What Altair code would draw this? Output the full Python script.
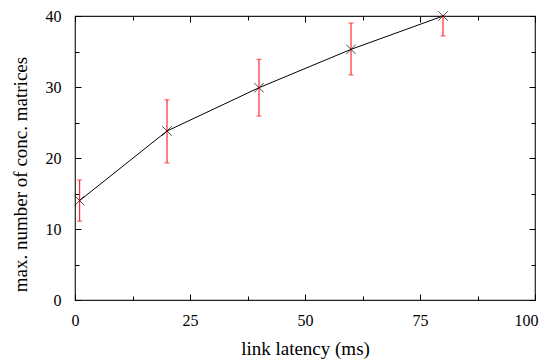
import altair as alt
import pandas as pd

# data
latency = [1, 20, 40, 60, 80]
matrices = [14.0, 23.8, 29.9, 35.3, 40.0]
err_low = [11.1, 19.3, 25.9, 31.7, 37.2]
err_high = [16.9, 28.2, 33.9, 39.0, 40.0]

x_major = [0, 25, 50, 75, 100]
x_minor = [12.5, 37.5, 62.5, 87.5]
y_major = [0, 10, 20, 30, 40]
y_minor = [5, 15, 25, 35]

df = pd.DataFrame(dict(latency=latency, matrices=matrices, lo=err_low, hi=err_high))

FONT = "Liberation Serif"
LFS = 16
TFS = 19
xs = alt.Scale(domain=[0, 100], nice=False, zero=False)
ys = alt.Scale(domain=[0, 40], nice=False, zero=False)

base = alt.Chart(df)

last_x = f"datum.value === {x_major[-1]}"
x_lab_axis = alt.Axis(values=x_major, ticks=False, domain=False, grid=False,
                      labelFlush=False, labelOverlap=False,
                      labelAlign={"condition": {"test": last_x, "value": "right"}, "value": "center"},
                      labelOffset={"condition": {"test": last_x, "value": 3}, "value": 0},
                      labelPadding=12, title="link latency (ms)", titlePadding=11,
                      labelFont=FONT, labelFontSize=LFS, titleFont=FONT, titleFontSize=TFS,
                      titleFontWeight="normal", labelColor="#000", titleColor="#000")
y_lab_axis = alt.Axis(values=y_major, ticks=False, domain=False, grid=False,
                      labelFlush=False, labelOverlap=False,
                      labelPadding=14, title="max. number of conc. matrices", titlePadding=15,
                      titleY=158,
                      labelFont=FONT, labelFontSize=LFS, titleFont=FONT, titleFontSize=TFS,
                      titleFontWeight="normal", labelColor="#000", titleColor="#000")

line = base.mark_line(color="#000", strokeWidth=1).encode(
    x=alt.X("latency:Q", scale=xs, axis=x_lab_axis),
    y=alt.Y("matrices:Q", scale=ys, axis=y_lab_axis),
)

err = base.mark_rule(color="#ff2a2a", strokeWidth=1.2).encode(
    x=alt.X("latency:Q", scale=xs, axis=None),
    y=alt.Y("lo:Q", scale=ys, axis=None),
    y2="hi:Q",
)
cap_lo = base.mark_tick(color="#ff2a2a", orient="horizontal", size=5, thickness=1.2).encode(
    x=alt.X("latency:Q", scale=xs, axis=None),
    y=alt.Y("lo:Q", scale=ys, axis=None),
)
cap_hi = base.mark_tick(color="#ff2a2a", orient="horizontal", size=5, thickness=1.2).encode(
    x=alt.X("latency:Q", scale=xs, axis=None),
    y=alt.Y("hi:Q", scale=ys, axis=None),
)

pts = base.mark_point(shape="M-1,-1L1,1M-1,1L1,-1", size=90, filled=False,
                      color="#000", strokeWidth=1).encode(
    x=alt.X("latency:Q", scale=xs, axis=None),
    y=alt.Y("matrices:Q", scale=ys, axis=None),
)


def tick_layer(channel, orient, values, size):
    ax = alt.Axis(orient=orient, values=values, offset=-size, tickSize=size,
                  labels=False, domain=False, grid=False, title=None, ticks=True,
                  tickColor="#000", tickWidth=1)
    if channel == "x":
        enc = {"x": alt.X("latency:Q", scale=xs, axis=ax)}
    else:
        enc = {"y": alt.Y("matrices:Q", scale=ys, axis=ax)}
    return base.mark_point(opacity=0).encode(**enc)


ticks = [
    tick_layer("x", "bottom", x_major, 6),
    tick_layer("x", "bottom", x_minor, 4),
    tick_layer("x", "top", x_major, 6),
    tick_layer("x", "top", x_minor, 4),
    tick_layer("y", "left", y_major, 6),
    tick_layer("y", "left", y_minor, 4),
    tick_layer("y", "right", y_major, 6),
    tick_layer("y", "right", y_minor, 4),
]

chart = alt.layer(line, err, cap_lo, cap_hi, pts, *ticks).resolve_axis(
    x="independent", y="independent"
).properties(
    width=460, height=284,
    autosize=alt.AutoSizeParams(type="none"),
    padding={"left": 67, "top": 8, "right": 4, "bottom": 60},
).configure_view(stroke="#222", strokeWidth=1.2)

chart.save("out.html", embed_options={"renderer": "svg", "actions": False})
